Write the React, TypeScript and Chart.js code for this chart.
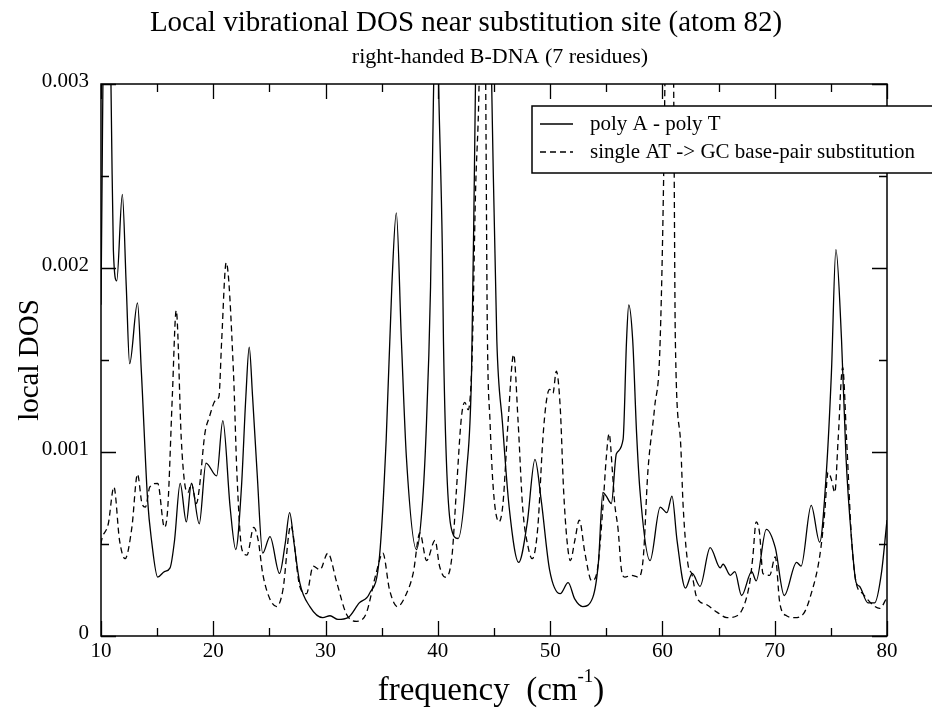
import React, { useEffect, useRef } from "react";
import { Chart, registerables } from "chart.js";

Chart.register(...registerables);

const TITLE = "Local vibrational DOS near substitution site (atom 82)";
const SUBTITLE = "right-handed B-DNA (7 residues)";
const X_TITLE = "frequency  (cm";
const X_TITLE_SUP = "-1";
const Y_TITLE = "local DOS";
const SERIES_LABELS = ["poly A - poly T", "single AT -> GC base-pair substitution"];

const xTickValues = [10, 15, 20, 25, 30, 35, 40, 45, 50, 55, 60, 65, 70, 75, 80];
const xTickLabels = ["10", "", "20", "", "30", "", "40", "", "50", "", "60", "", "70", "", "80"];
const yTickValues = [0, 0.0005, 0.001, 0.0015, 0.002, 0.0025, 0.003];
const yTickLabels = ["0", "", "0.001", "", "0.002", "", "0.003"];

const solidFreq = [
  10.0, 10.1, 10.2, 10.5, 10.8, 10.95, 11.1, 11.4, 11.9, 12.25, 12.55, 13.25, 13.6, 14.15, 14.5, 15.05,
  15.65, 16.15, 16.55, 17.05, 17.6, 18.05, 18.75, 19.35, 20.3, 20.85, 21.5, 22.0, 22.5, 22.9, 23.2, 23.5,
  23.9, 24.4, 25.05, 25.9, 26.4, 26.8, 27.2, 27.7, 28.6, 29.75, 30.4, 31.1, 32.0, 33.0, 33.9, 34.8, 35.4,
  35.9, 36.3, 36.75, 37.2, 38.1, 38.6, 38.95, 39.35, 39.6, 39.85, 40.1, 40.4, 40.5, 40.75, 41.15, 41.8,
  42.55, 43.0, 43.25, 43.45, 44.05, 44.65, 44.85, 45.25, 45.75, 46.35, 47.2, 47.95, 48.65, 49.2, 49.95,
  50.9, 51.6, 52.2, 52.9, 53.8, 54.3, 54.7, 55.0, 55.45, 55.9, 56.5, 56.8, 57.0, 57.35, 57.7, 58.0, 58.9,
  59.8, 60.4, 60.85, 61.3, 62.05, 62.65, 63.35, 64.25, 65.15, 65.4, 66.05, 66.45, 67.05, 67.95, 68.35,
  69.25, 70.05, 70.85, 71.95, 72.35, 73.25, 74.0, 74.6, 75.05, 75.45, 75.95, 76.35, 76.85, 77.25, 77.55,
  78.3, 78.9, 79.5, 80.0,
];
const solidDos = [
  0.0018, 0.0025, 0.0032, 0.0042, 0.0034, 0.0027, 0.0021, 0.00193, 0.0024, 0.0019, 0.00148, 0.00181,
  0.00143, 0.00074, 0.00052, 0.00032, 0.00035, 0.00037, 0.00052, 0.00083, 0.00062, 0.00083, 0.00061,
  0.00094, 0.00087, 0.00117, 0.0007, 0.00047, 0.0008, 0.0013, 0.00157, 0.0013, 0.00089, 0.00045, 0.00054,
  0.00034, 0.0005, 0.00067, 0.0005, 0.00029, 0.00016, 0.0001, 0.00011, 0.00009, 0.0001, 0.00018, 0.00023,
  0.00043, 0.00107, 0.0019, 0.0023, 0.00161, 0.00097, 0.00047, 0.0007, 0.0011, 0.0019, 0.0029, 0.0036,
  0.0029, 0.0021, 0.0016, 0.00097, 0.0006, 0.00053, 0.00089, 0.00143, 0.0025, 0.0035, 0.006, 0.0035,
  0.0028, 0.00161, 0.00116, 0.0007, 0.0004, 0.00061, 0.00096, 0.00074, 0.00036, 0.00023, 0.00029, 0.0002,
  0.00016, 0.00021, 0.0004, 0.00078, 0.00076, 0.00072, 0.00099, 0.00107, 0.0016, 0.0018, 0.00161, 0.0011,
  0.00079, 0.00041, 0.0007, 0.00067, 0.00076, 0.00052, 0.00026, 0.00034, 0.00027, 0.00048, 0.00037,
  0.00039, 0.00033, 0.00035, 0.00022, 0.00035, 0.0003, 0.00058, 0.00048, 0.00022, 0.0004, 0.00038,
  0.00071, 0.00051, 0.00089, 0.00143, 0.0021, 0.00161, 0.00097, 0.00052, 0.00029, 0.00027, 0.00018,
  0.00018, 0.00034, 0.00063,
];

const dashedFreq = [
  10.0, 10.05, 10.65, 11.15, 11.65, 12.15, 12.75, 13.25, 13.65, 13.95, 14.35, 15.05, 15.65, 15.95, 16.35,
  16.7, 17.15, 17.45, 17.75, 18.05, 18.5, 18.75, 19.25, 19.65, 20.2, 20.5, 20.75, 21.15, 21.8, 22.1, 22.55,
  23.0, 23.6, 24.0, 24.4, 25.05, 25.65, 26.2, 26.9, 27.7, 28.3, 28.9, 29.5, 30.2, 31.0, 31.85, 32.75,
  33.6, 34.5, 35.1, 35.7, 36.4, 37.2, 37.8, 38.4, 39.0, 39.75, 40.15, 40.65, 41.25, 41.65, 42.1, 42.4,
  42.7, 43.05, 43.35, 43.7, 44.0, 44.25, 44.4, 44.65, 44.95, 45.45, 45.8, 46.25, 46.75, 47.15, 47.55,
  48.05, 48.4, 48.9, 49.35, 49.65, 49.95, 50.25, 50.55, 50.9, 51.2, 51.5, 51.8, 52.2, 52.6, 53.1, 53.7,
  54.15, 54.7, 55.0, 55.25, 55.55, 55.75, 56.05, 56.35, 56.65, 57.25, 57.85, 58.3, 58.7, 59.3, 59.8,
  60.2, 60.6, 61.0, 61.15, 61.6, 61.85, 62.3, 62.6, 63.05, 63.95, 64.85, 65.75, 66.65, 67.35, 67.8,
  68.05, 68.35, 68.65, 68.95, 69.55, 70.05, 70.45, 71.05, 71.75, 72.55, 73.25, 74.0, 74.45, 74.75,
  75.05, 75.35, 75.65, 76.05, 76.4, 76.85, 77.25, 77.85, 78.55, 79.35, 80.0,
];
const dashedDos = [
  0.0005, 0.00052, 0.00061, 0.00081, 0.00052, 0.00042, 0.00059, 0.00088, 0.00072, 0.0007, 0.00081,
  0.00083, 0.00059, 0.0007, 0.0013, 0.00177, 0.00107, 0.00083, 0.00078, 0.00083, 0.00072, 0.0008, 0.0011,
  0.00119, 0.00128, 0.0013, 0.00161, 0.00203, 0.00143, 0.00089, 0.00047, 0.00044, 0.00059, 0.00052,
  0.00034, 0.0002, 0.00016, 0.00025, 0.0006, 0.00027, 0.00023, 0.00038, 0.00036, 0.00045, 0.00029,
  0.00012, 0.00008, 0.00012, 0.00034, 0.00045, 0.00025, 0.00016, 0.00023, 0.00034, 0.00056, 0.00041,
  0.00052, 0.00038, 0.00032, 0.00043, 0.00079, 0.00119, 0.00127, 0.00123, 0.00152, 0.0024, 0.0031, 0.0048,
  0.0031, 0.0017, 0.00116, 0.00079, 0.00062, 0.00072, 0.00116, 0.00153, 0.00116, 0.0007, 0.00048, 0.00042,
  0.00059, 0.00107, 0.00127, 0.00134, 0.00132, 0.00144, 0.00124, 0.00079, 0.00052, 0.00041, 0.00052,
  0.00063, 0.00045, 0.0003, 0.00034, 0.0007, 0.00097, 0.0011, 0.00089, 0.00072, 0.00058, 0.00036, 0.00032,
  0.00033, 0.00032, 0.00043, 0.00089, 0.00124, 0.00161, 0.0029, 0.0055, 0.003, 0.00161, 0.00107, 0.0007,
  0.00038, 0.00034, 0.00021, 0.00017, 0.00013, 0.0001, 0.00011, 0.00018, 0.0003, 0.00043, 0.00062,
  0.00056, 0.00034, 0.00033, 0.00043, 0.00018, 0.00011, 0.0001, 0.00012, 0.00023, 0.00043, 0.00067,
  0.00089, 0.00085, 0.00078, 0.00107, 0.00146, 0.00107, 0.00052, 0.00029, 0.00023, 0.00018, 0.00015,
  0.00021,
];

const SERIF = '"Liberation Serif", "Times New Roman", serif';

const decorPlugin = {
  id: "decor",
  afterDatasetsDraw(chart: any) {
    const ctx = chart.ctx as CanvasRenderingContext2D;
    const { left, right, top, bottom } = chart.chartArea;
    const xs = chart.scales.x;
    const ys = chart.scales.y;
    ctx.save();
    ctx.strokeStyle = "#000";
    ctx.fillStyle = "#000";
    ctx.lineWidth = 1.5;
    ctx.setLineDash([]);
    ctx.strokeRect(left, top, right - left, bottom - top);

    // ticks (inward, mirrored)
    ctx.lineWidth = 1.3;
    ctx.beginPath();
    xTickValues.forEach((v, i) => {
      const px = Math.round(xs.getPixelForValue(v)) + 0.5;
      const len = xTickLabels[i] ? 15 : 8;
      ctx.moveTo(px, bottom);
      ctx.lineTo(px, bottom - len);
      ctx.moveTo(px, top);
      ctx.lineTo(px, top + len);
    });
    yTickValues.forEach((v, i) => {
      const py = Math.round(ys.getPixelForValue(v)) + 0.5;
      const len = yTickLabels[i] ? 15 : 8;
      ctx.moveTo(left, py);
      ctx.lineTo(left + len, py);
      ctx.moveTo(right, py);
      ctx.lineTo(right - len, py);
    });
    ctx.stroke();

    // tick labels
    ctx.font = `21px ${SERIF}`;
    ctx.textAlign = "center";
    ctx.textBaseline = "middle";
    xTickValues.forEach((v, i) => {
      if (!xTickLabels[i]) return;
      ctx.fillText(xTickLabels[i], xs.getPixelForValue(v), bottom + 15);
    });
    ctx.textAlign = "right";
    yTickValues.forEach((v, i) => {
      if (!yTickLabels[i]) return;
      ctx.fillText(yTickLabels[i], left - 12, ys.getPixelForValue(v) - 3);
    });

    // titles
    ctx.textAlign = "center";
    ctx.font = `29px ${SERIF}`;
    ctx.fillText(TITLE, 466, 23);
    ctx.font = `22px ${SERIF}`;
    ctx.fillText(SUBTITLE, 500, 57);

    // y title
    ctx.save();
    ctx.translate(30, 360);
    ctx.rotate(-Math.PI / 2);
    ctx.font = `29px ${SERIF}`;
    ctx.fillText(Y_TITLE, 0, 0);
    ctx.restore();

    // x title with superscript
    ctx.font = `33px ${SERIF}`;
    const w1 = ctx.measureText(X_TITLE).width;
    ctx.font = `19px ${SERIF}`;
    const w2 = ctx.measureText(X_TITLE_SUP).width;
    ctx.font = `33px ${SERIF}`;
    const w3 = ctx.measureText(")").width;
    const total = w1 + w2 + w3;
    const sx = 491 - total / 2;
    ctx.textAlign = "left";
    ctx.fillText(X_TITLE, sx, 691);
    ctx.font = `19px ${SERIF}`;
    ctx.fillText(X_TITLE_SUP, sx + w1, 677);
    ctx.font = `33px ${SERIF}`;
    ctx.fillText(")", sx + w1 + w2, 691);

    // legend
    const lx = 532, ly = 106, lw = 420, lh = 67;
    ctx.fillStyle = "#fff";
    ctx.fillRect(lx, ly, lw, lh);
    ctx.lineWidth = 1.5;
    ctx.strokeStyle = "#000";
    ctx.strokeRect(lx, ly, lw, lh);
    const rows = [124, 152];
    chart.data.datasets.forEach((ds: any, i: number) => {
      ctx.beginPath();
      ctx.lineWidth = 1.3;
      ctx.setLineDash(ds.borderDash || []);
      ctx.moveTo(540, rows[i]);
      ctx.lineTo(573, rows[i]);
      ctx.stroke();
      ctx.setLineDash([]);
      ctx.fillStyle = "#000";
      ctx.font = `21px ${SERIF}`;
      ctx.textAlign = "left";
      ctx.textBaseline = "middle";
      ctx.fillText(ds.label, 590, rows[i]);
    });
    ctx.restore();
  },
};

export default function App() {
  const canvasRef = useRef<HTMLCanvasElement | null>(null);

  useEffect(() => {
    if (!canvasRef.current) return;
    const solid = solidFreq.map((f, i) => ({ x: f, y: solidDos[i] }));
    const dashed = dashedFreq.map((f, i) => ({ x: f, y: dashedDos[i] }));
    const chart = new Chart(canvasRef.current, {
      type: "line",
      data: {
        datasets: [
          {
            label: SERIES_LABELS[0],
            data: solid,
            borderColor: "#000",
            borderWidth: 1.3,
            pointRadius: 0,
            fill: false,
            cubicInterpolationMode: "monotone",
          },
          {
            label: SERIES_LABELS[1],
            data: dashed,
            borderColor: "#000",
            borderWidth: 1.3,
            borderDash: [6, 4],
            pointRadius: 0,
            fill: false,
            cubicInterpolationMode: "monotone",
          },
        ],
      },
      options: {
        animation: false,
        responsive: true,
        maintainAspectRatio: false,
        layout: { padding: { top: 84, right: 45, left: 0, bottom: 0 } },
        plugins: {
          legend: { display: false },
          title: { display: false },
          tooltip: { enabled: false },
        },
        scales: {
          x: {
            type: "linear",
            min: 10,
            max: 80,
            ticks: { display: false },
            grid: { display: false },
            border: { display: false },
            afterFit: (s: any) => {
              s.height = 79;
            },
          },
          y: {
            min: 0,
            max: 0.003,
            ticks: { display: false },
            grid: { display: false },
            border: { display: false },
            afterFit: (s: any) => {
              s.width = 101;
            },
          },
        },
      },
      plugins: [decorPlugin],
    });
    return () => chart.destroy();
  }, []);

  return (
    <div style={{ position: "fixed", left: 0, top: 0, width: 932, height: 715, background: "#fff" }}>
      <canvas ref={canvasRef} />
    </div>
  );
}
